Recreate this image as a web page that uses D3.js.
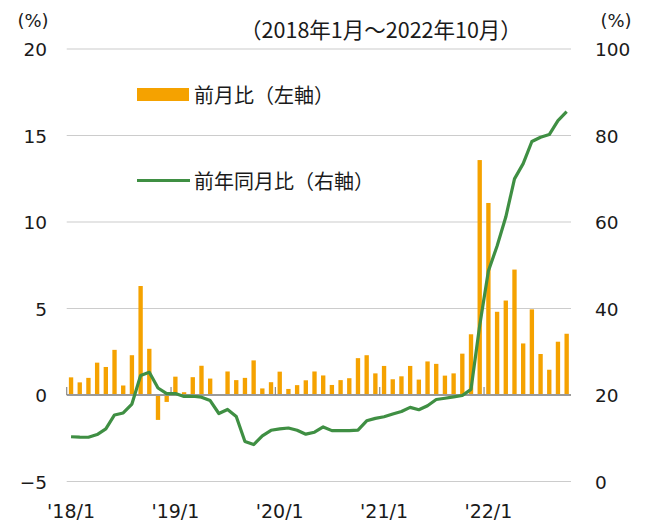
<!DOCTYPE html>
<html>
<head>
<meta charset="utf-8">
<script src="https://cdn.jsdelivr.net/npm/d3@7"></script>
<style>
  html, body { margin: 0; padding: 0; background: #fff; }
  svg { display: block; }
</style>
</head>
<body>
<svg id="chart" width="646" height="521"></svg>
<script>
// ---- Data (2018/1 – 2022/10) ----
const months = [];
for (let y = 2018; y <= 2022; y++) {
  for (let m = 1; m <= 12; m++) {
    if (y === 2022 && m > 10) break;
    months.push(y + "/" + m);
  }
}
// 前月比 (%), left axis
const momValues = [
  1.02, 0.73, 0.99, 1.87, 1.62, 2.61, 0.55, 2.30, 6.30, 2.67, -1.44, -0.40,
  1.06, 0.16, 1.03, 1.69, 0.95, 0.03, 1.36, 0.86, 0.99, 2.00, 0.38, 0.74,
  1.35, 0.35, 0.57, 0.85, 1.36, 1.13, 0.58, 0.86, 0.97, 2.13, 2.30, 1.25,
  1.68, 0.91, 1.08, 1.68, 0.89, 1.94, 1.80, 1.12, 1.25, 2.39, 3.51, 13.58,
  11.10, 4.81, 5.46, 7.25, 2.98, 4.95, 2.37, 1.46, 3.08, 3.54
];
// 前年同月比 (%), right axis
const yoyValues = [
  10.35, 10.26, 10.23, 10.85, 12.15, 15.39, 15.85, 17.90, 24.52, 25.24, 21.62, 20.30,
  20.35, 19.67, 19.71, 19.50, 18.71, 15.72, 16.65, 15.01, 9.26, 8.55, 10.56, 11.84,
  12.15, 12.37, 11.86, 10.94, 11.39, 12.62, 11.76, 11.77, 11.75, 11.89, 14.03, 14.60,
  14.97, 15.61, 16.19, 17.14, 16.59, 17.53, 18.95, 19.25, 19.58, 19.89, 21.31, 36.08,
  48.69, 54.44, 61.14, 69.97, 73.50, 78.62, 79.60, 80.21, 83.45, 85.51
];
const leftTicks = [-5, 0, 5, 10, 15, 20];
const rightTicks = [0, 20, 40, 60, 80, 100];
const xTickLabels = ["'18/1", "'19/1", "'20/1", "'21/1", "'22/1"];
const xTickMonths = ["2018/1", "2019/1", "2020/1", "2021/1", "2022/1"];
const titleText = "（2018年1月～2022年10月）";
const legendBar = "前月比（左軸）";
const legendLine = "前年同月比（右軸）";

// ---- Layout ----
const plotLeft = 66.7, plotRight = 571, plotTop = 49, plotBottom = 481.5;
const orange = "#F5A200", green = "#3F8F43", textColor = "#1a1a1a";
const numFont = "'DejaVu Sans', Verdana, sans-serif";
const cjkFont = "'Noto Sans CJK JP', 'Noto Sans', sans-serif";

const svg = d3.select("#chart");

const x = d3.scaleBand().domain(months).range([plotLeft, plotRight]).paddingInner(0.5).paddingOuter(0.25);
const xb = d3.scaleBand().domain(months).range([plotLeft, plotRight]).padding(0);
const yL = d3.scaleLinear().domain([-5, 20]).range([plotBottom, plotTop]);
const yR = d3.scaleLinear().domain([0, 100]).range([plotBottom, plotTop]);

// gridlines
svg.append("g")
  .selectAll("line")
  .data(leftTicks.filter(d => d !== 0))
  .join("line")
  .attr("x1", plotLeft).attr("x2", plotRight)
  .attr("y1", d => yL(d)).attr("y2", d => yL(d))
  .attr("stroke", "#cccccc").attr("stroke-width", 1.2);

// left axis labels
const leftAxis = d3.axisLeft(yL).tickValues(leftTicks).tickSize(0).tickPadding(0);
const gL = svg.append("g").attr("transform", "translate(47,0)").call(leftAxis);
gL.select(".domain").remove();
gL.selectAll("text").attr("font-family", numFont).attr("font-size", 18.5).attr("fill", textColor).attr("dy", "0.36em");

// right axis labels
const rightAxis = d3.axisRight(yR).tickValues(rightTicks).tickSize(0).tickPadding(0);
const gR = svg.append("g").attr("transform", "translate(595,0)").call(rightAxis);
gR.select(".domain").remove();
gR.selectAll("text").attr("font-family", numFont).attr("font-size", 18.5).attr("fill", textColor).attr("dy", "0.36em");

// bars
svg.append("g")
  .selectAll("rect")
  .data(momValues)
  .join("rect")
  .attr("x", (d, i) => x(months[i]))
  .attr("width", x.bandwidth())
  .attr("y", d => yL(Math.max(0, d)))
  .attr("height", d => Math.abs(yL(d) - yL(0)))
  .attr("fill", orange);

// zero axis line
svg.append("line")
  .attr("x1", plotLeft).attr("x2", plotRight)
  .attr("y1", yL(0)).attr("y2", yL(0))
  .attr("stroke", "#9a9a9a").attr("stroke-width", 2);

// year ticks (upward)
svg.append("g")
  .selectAll("line")
  .data(xTickMonths)
  .join("line")
  .attr("x1", d => xb(d)).attr("x2", d => xb(d))
  .attr("y1", yL(0)).attr("y2", yL(0) - 8)
  .attr("stroke", "#8a8a8a").attr("stroke-width", 1.2);

// x labels
svg.append("g")
  .selectAll("text")
  .data(xTickMonths)
  .join("text")
  .attr("x", d => xb(d) + xb.bandwidth() / 2)
  .attr("y", 518)
  .attr("text-anchor", "middle")
  .attr("font-family", numFont).attr("font-size", 19).attr("fill", textColor)
  .text((d, i) => xTickLabels[i]);

// line
const line = d3.line()
  .x((d, i) => xb(months[i]) + xb.bandwidth() / 2)
  .y(d => yR(d));
svg.append("path")
  .datum(yoyValues)
  .attr("d", line)
  .attr("fill", "none")
  .attr("stroke", green)
  .attr("stroke-width", 3.2)
  .attr("stroke-linejoin", "round");

// unit labels
svg.append("text").attr("x", 33).attr("y", 27).attr("text-anchor", "middle")
  .attr("font-family", numFont).attr("font-size", 18).attr("fill", textColor).text("(%)");
svg.append("text").attr("x", 616).attr("y", 27).attr("text-anchor", "middle")
  .attr("font-family", numFont).attr("font-size", 18).attr("fill", textColor).text("(%)");

// title
svg.append("text").attr("x", 381).attr("y", 38).attr("text-anchor", "middle")
  .attr("font-family", cjkFont).attr("font-size", 21.5).attr("fill", textColor).text(titleText);

// legend
svg.append("rect").attr("x", 137).attr("y", 88).attr("width", 52).attr("height", 13).attr("fill", orange);
svg.append("text").attr("x", 194).attr("y", 102.5)
  .attr("font-family", cjkFont).attr("font-size", 20).attr("fill", textColor).text(legendBar);
svg.append("line").attr("x1", 137).attr("x2", 190).attr("y1", 180.5).attr("y2", 180.5)
  .attr("stroke", green).attr("stroke-width", 3.2);
svg.append("text").attr("x", 194).attr("y", 188.5)
  .attr("font-family", cjkFont).attr("font-size", 20).attr("fill", textColor).text(legendLine);
</script>
</body>
</html>
